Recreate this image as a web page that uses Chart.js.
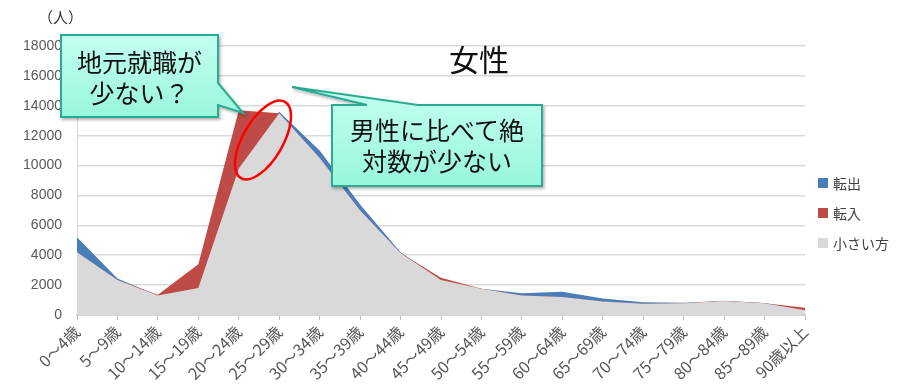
<!DOCTYPE html>
<html>
<head>
<meta charset="utf-8">
<script src="https://cdn.jsdelivr.net/npm/chart.js@4.4.1/dist/chart.umd.min.js"></script>
<style>
  html, body { margin: 0; padding: 0; background: #fff; }
  #wrap { position: relative; width: 902px; height: 388px; font-family: "Noto Sans CJK JP", sans-serif; }
  #wrap canvas { position: absolute; left: 0; top: 0; }
  .txt { position: absolute; white-space: nowrap; }
  .callout { position: absolute; text-align: center; color: #111; font-size: 25px; line-height: 31px; }
  .legend { position: absolute; left: 818px; font-size: 14px; color: #404040; }
  .legend div { position: relative; height: 30px; line-height: 30px; padding-left: 15px; }
  .legend span { position: absolute; left: 0; top: 10px; width: 10px; height: 10px; }
</style>
</head>
<body>
<div id="wrap">
  <canvas id="chart" width="902" height="388"></canvas>
  <svg width="902" height="388" style="position:absolute;left:0;top:0">
    <defs>
      <linearGradient id="boxFill" x1="0" y1="0" x2="0" y2="1">
        <stop offset="0" stop-color="#c4fff1"/>
        <stop offset="1" stop-color="#98f6dc"/>
      </linearGradient>
      <filter id="shadow" x="-10%" y="-10%" width="130%" height="140%">
        <feDropShadow dx="1.5" dy="2" stdDeviation="1.5" flood-color="#000" flood-opacity="0.3"/>
      </filter>
    </defs>
    <!-- 吹き出し1 -->
    <path d="M61,35 H218 V83 L243,113 L218,105 V117 H61 Z" fill="url(#boxFill)" stroke="#2aaa90" stroke-width="2" filter="url(#shadow)"/>
    <!-- 吹き出し2 -->
    <path d="M332,105 H367 L292,87 L418,105 H542 V186 H332 Z" fill="url(#boxFill)" stroke="#2aaa90" stroke-width="2" filter="url(#shadow)"/>
    <ellipse cx="263" cy="140" rx="20" ry="44" transform="rotate(30 263 140)" fill="none" stroke="#ff0000" stroke-width="2.5"/>
  </svg>
  <div class="txt" style="left:38px;top:6px;font-size:15px;color:#333;">（人）</div>
  <div class="txt" style="left:449px;top:36px;font-size:30px;color:#111;">女性</div>
  <div class="callout" style="left:61px;top:46px;width:157px;">地元就職が<br>少ない？</div>
  <div class="callout" style="left:332px;top:114px;width:210px;">男性に比べて絶<br>対数が少ない</div>
  <div class="legend" id="legend" style="top:168px;"></div>
</div>
<script>
const labels = ['0～4歳', '5～9歳', '10～14歳', '15～19歳', '20～24歳', '25～29歳', '30～34歳', '35～39歳', '40～44歳', '45～49歳',
  '50～54歳', '55～59歳', '60～64歳', '65～69歳', '70～74歳', '75～79歳', '80～84歳', '85～89歳', '90歳以上']
const tenshutsu = [5200, 2450, 1300, 1800, 9800, 13600, 11000, 7400, 4200, 2350, 1750, 1450, 1550, 1100, 850, 820, 930, 800, 320]
const tennyu = [4200, 2350, 1350, 3400, 13700, 13500, 10500, 7000, 4150, 2500, 1750, 1300, 1200, 900, 750, 780, 950, 780, 480]
const chiisai = [4200, 2350, 1300, 1800, 9800, 13500, 10500, 7000, 4150, 2350, 1750, 1300, 1200, 900, 750, 780, 930, 780, 320]
const yTicks = [0, 2000, 4000, 6000, 8000, 10000, 12000, 14000, 16000, 18000]

const series = [
  { label: '転出', data: tenshutsu, color: '#4a7ebb', order: 2 },
  { label: '転入', data: tennyu, color: '#be4b48', order: 1 },
  { label: '小さい方', data: chiisai, color: '#d9d9d9', order: 0 }
]

// 凡例（HTML）
const legend = document.getElementById('legend')
series.forEach(s => {
  const row = document.createElement('div')
  const box = document.createElement('span')
  box.style.background = s.color
  row.appendChild(box)
  row.appendChild(document.createTextNode(s.label))
  legend.appendChild(row)
})

new Chart(document.getElementById('chart'), {
  type: 'line',
  data: {
    labels,
    datasets: series.map(s => ({
      label: s.label,
      data: s.data,
      order: s.order,
      fill: 'origin',
      backgroundColor: s.color,
      borderColor: s.color,
      borderWidth: 0,
      pointRadius: 0,
      tension: 0
    }))
  },
  options: {
    responsive: false,
    animation: false,
    layout: { padding: { top: 46, right: 97, bottom: 0, left: 0 } },
    plugins: {
      legend: { display: false },
      tooltip: { enabled: false }
    },
    scales: {
      x: {
        offset: false,
        afterFit: scale => { scale.height = 73 },
        grid: { drawOnChartArea: false, drawTicks: true, tickLength: 5, color: '#bfbfbf', lineWidth: 1 },
        border: { color: '#bfbfbf', width: 1.5 },
        ticks: {
          minRotation: 45,
          maxRotation: 45,
          autoSkip: false,
          padding: 2,
          color: '#555',
          font: { family: 'Noto Sans CJK JP', size: 16 }
        }
      },
      y: {
        min: 0,
        max: 18000,
        afterFit: scale => { scale.width = 77 },
        afterBuildTicks: scale => { scale.ticks = yTicks.map(v => ({ value: v })) },
        grid: { color: '#d9d9d9', lineWidth: 1.5, drawTicks: false },
        border: { color: '#d9d9d9', width: 1 },
        ticks: {
          padding: 15,
          color: '#595959',
          font: { family: 'Liberation Sans', size: 14 },
          callback: v => String(v)
        }
      }
    }
  }
})
</script>
</body>
</html>
